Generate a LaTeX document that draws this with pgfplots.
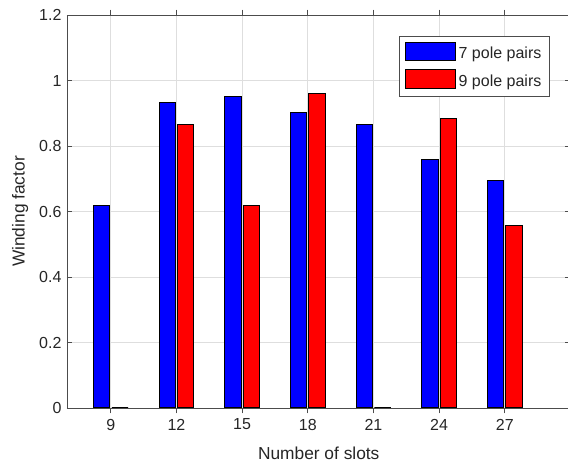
\documentclass[border=0pt]{standalone}
\usepackage{pgfplots}
\pgfplotsset{compat=1.18}
\usepackage{fontspec}
\setmainfont{Liberation Sans}
\definecolor{txt}{gray}{0.15}
\definecolor{gridc}{gray}{0.87}
\definecolor{axc}{gray}{0.3}
\begin{document}
\fontsize{12pt}{14pt}\selectfont
\begin{tikzpicture}
\begin{axis}[
  name=ax,
  scale only axis,
  width=377.6pt, height=294.75pt,
  xmin=7, xmax=30, ymin=0, ymax=1.2,
  xtick={9,12,15,18,21,24,27},
  ytick={0,0.2,0.4,0.6,0.8,1,1.2},
  /pgf/number format/assume math mode=true,
  tick label style={font=\fontsize{12pt}{14pt}\selectfont, text=txt},
  label style={font=\fontsize{13pt}{15pt}\selectfont, text=txt},
  xlabel={Number of slots},
  ylabel={Winding factor},
  xlabel style={yshift=-4pt},
  grid=major,
  major grid style={gridc, line width=0.5pt},
  tick align=inside,
  major tick length=4pt,
  tick style={axc, line width=0.6pt},
  axis line style={axc, line width=0.7pt},
  ybar,
  bar width=0.75,
  legend style={at={(axis description cs:0.959,0.947)}, anchor=north east,
    draw=axc, line width=0.7pt, font=\fontsize{12pt}{14pt}\selectfont, text=txt,
    inner xsep=4pt, inner ysep=4pt, row sep=4pt},
  legend cell align=left,
  legend image code/.code={\draw[#1, line width=0.8pt] (0pt,-5pt) rectangle (37.5pt,9pt);},
]
\addplot[bar shift=-0.42, fill={rgb,1:red,0;green,0;blue,1}, draw=black, line width=0.8pt]
  coordinates {(9,0.617) (12,0.933) (15,0.951) (18,0.902) (21,0.866) (24,0.760) (27,0.695)};
\addlegendentry{7 pole pairs}
\addplot[bar shift=0.42, fill={rgb,1:red,1;green,0;blue,0}, draw=black, line width=0.8pt]
  coordinates {(9,0) (12,0.866) (15,0.617) (18,0.960) (21,0) (24,0.885) (27,0.556)};
\addlegendentry{9 pole pairs}
\end{axis}
\pgfresetboundingbox
\path ([xshift=-50.25pt,yshift=-42pt]ax.south west) rectangle ([xshift=375.75pt,yshift=306pt]ax.south west);
\end{tikzpicture}
\end{document}
